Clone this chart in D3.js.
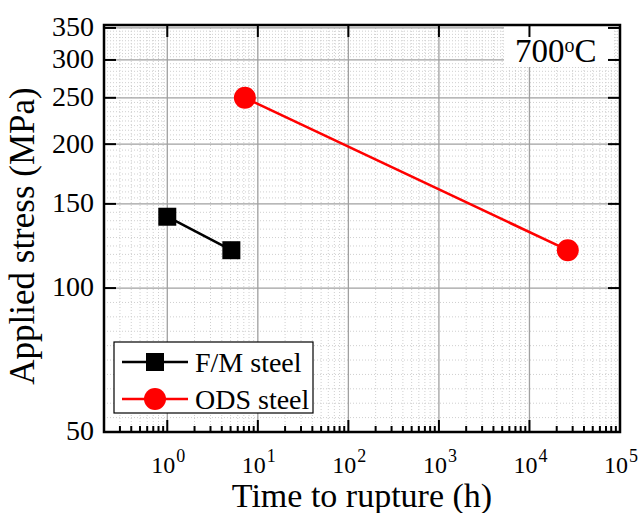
<!DOCTYPE html>
<html>
  <head>
  <script src="https://cdnjs.cloudflare.com/ajax/libs/d3/7.8.5/d3.min.js"></script>
    <meta charset="utf-8">
    <title>Stress rupture</title>
    <style>
      body { margin: 0; background: #fff; }
      text { font-family: "Liberation Serif", "Times New Roman", serif; fill: #000; }
    </style>
  </head>
  <body>
    <script>
      // data
      var fmTime = [1, 5.1];
      var fmStress = [141, 120];
      var odsTime = [7.2, 26500];
      var odsStress = [250, 120];
      var xDecades = [0, 1, 2, 3, 4, 5];
      var yTicks = [50, 100, 150, 200, 250, 300, 350];
      var seriesNames = ["F/M steel", "ODS steel"];
      var seriesColors = ["#000000", "#ff0000"];

      var W = 638, H = 513;
      var pLeft = 104, pRight = 620, pTop = 25, pBottom = 432;

      var svg = d3.select("body").append("svg")
                  .attr("width", W)
                  .attr("height", H);

      var x = d3.scaleLog().domain([0.2, 1e5]).range([pLeft, pRight]);
      var y = d3.scaleLog().domain([50, 355]).range([pBottom, pTop]);

      // minor grid values
      var xMinor = [];
      for (var d = -1; d < 5; d++) {
        for (var k = 2; k <= 9; k++) {
          var v = k * Math.pow(10, d);
          if (v > 0.2 && v < 1e5) xMinor.push(v);
        }
      }
      var yMinor = [];
      for (var i = 0; i < yTicks.length - 1; i++) {
        for (var j = 1; j < 10; j++) {
          yMinor.push(yTicks[i] * Math.pow(yTicks[i + 1] / yTicks[i], j / 10));
        }
      }
      for (var j = 1; j < 10; j++) {
        var v = 350 * Math.pow(400 / 350, j / 10);
        if (v < 355) yMinor.push(v);
      }

      var grid = svg.append("g");
      grid.selectAll(".xm").data(xMinor).enter().append("line")
          .attr("x1", function (d) { return x(d); }).attr("x2", function (d) { return x(d); })
          .attr("y1", pTop).attr("y2", pBottom)
          .style("stroke", "#cfcfcf").style("stroke-width", 1).style("stroke-dasharray", "1,2");
      grid.selectAll(".ym").data(yMinor).enter().append("line")
          .attr("x1", pLeft).attr("x2", pRight)
          .attr("y1", function (d) { return y(d); }).attr("y2", function (d) { return y(d); })
          .style("stroke", "#cfcfcf").style("stroke-width", 1).style("stroke-dasharray", "1,2");
      grid.selectAll(".xM").data(xDecades.slice(0, 5)).enter().append("line")
          .attr("x1", function (d) { return x(Math.pow(10, d)); }).attr("x2", function (d) { return x(Math.pow(10, d)); })
          .attr("y1", pTop).attr("y2", pBottom)
          .style("stroke", "#a0a0a0").style("stroke-width", 1.3);
      grid.selectAll(".yM").data(yTicks.slice(1)).enter().append("line")
          .attr("x1", pLeft).attr("x2", pRight)
          .attr("y1", function (d) { return y(d); }).attr("y2", function (d) { return y(d); })
          .style("stroke", "#a0a0a0").style("stroke-width", 1.3);

      // 700oC label with white box
      svg.append("rect").attr("x", 504).attr("y", pTop + 1).attr("width", 110).attr("height", 41)
         .style("fill", "#fff");
      var lab = svg.append("text").attr("x", 515).attr("y", 62).style("font-size", "33px");
      lab.append("tspan").text("700");
      lab.append("tspan").attr("dy", -10).style("font-size", "20px").text("o");
      lab.append("tspan").attr("dy", 10).text("C");

      // axes: ticks inward
      var ax = svg.append("g");
      ax.selectAll(".bx").data(xDecades).enter().append("line")
        .attr("x1", function (d) { return x(Math.pow(10, d)); }).attr("x2", function (d) { return x(Math.pow(10, d)); })
        .attr("y1", pBottom).attr("y2", pBottom - 12)
        .style("stroke", "#000").style("stroke-width", 2);
      ax.selectAll(".bxm").data(xMinor).enter().append("line")
        .attr("x1", function (d) { return x(d); }).attr("x2", function (d) { return x(d); })
        .attr("y1", pBottom).attr("y2", pBottom - 6)
        .style("stroke", "#000").style("stroke-width", 2);
      ax.selectAll(".tx").data(xDecades).enter().append("line")
        .attr("x1", function (d) { return x(Math.pow(10, d)); }).attr("x2", function (d) { return x(Math.pow(10, d)); })
        .attr("y1", pTop).attr("y2", pTop + 12)
        .style("stroke", "#000").style("stroke-width", 2);
      ax.selectAll(".ly").data(yTicks).enter().append("line")
        .attr("x1", pLeft).attr("x2", pLeft + 12)
        .attr("y1", function (d) { return y(d); }).attr("y2", function (d) { return y(d); })
        .style("stroke", "#000").style("stroke-width", 2);
      ax.selectAll(".ry").data(yTicks).enter().append("line")
        .attr("x1", pRight).attr("x2", pRight - 12)
        .attr("y1", function (d) { return y(d); }).attr("y2", function (d) { return y(d); })
        .style("stroke", "#000").style("stroke-width", 2);
      svg.append("rect").attr("x", pLeft).attr("y", pTop).attr("width", pRight - pLeft).attr("height", pBottom - pTop)
         .style("fill", "none").style("stroke", "#000").style("stroke-width", 2.5);

      // tick labels
      svg.selectAll(".yl").data(yTicks).enter().append("text")
         .attr("x", pLeft - 10).attr("y", function (d) { return y(d); })
         .attr("dy", "0.3em").attr("text-anchor", "end")
         .style("font-size", "28px").text(function (d) { return d; });
      var xl = svg.selectAll(".xl").data(xDecades).enter().append("text")
         .attr("x", function (d) { return x(Math.pow(10, d)) - 16; }).attr("y", 473)
         .style("font-size", "24px");
      xl.append("tspan").text("10");
      xl.append("tspan").attr("dx", 1).attr("dy", -11).style("font-size", "18px").text(function (d) { return d; });

      // axis titles
      svg.append("text").attr("x", (pLeft + pRight) / 2).attr("y", 507).attr("text-anchor", "middle")
         .style("font-size", "34px").text("Time to rupture (h)");
      svg.append("text").attr("transform", "translate(34,236) rotate(-90)").attr("text-anchor", "middle")
         .style("font-size", "35px").text("Applied stress (MPa)");

      // series
      var line = d3.line().x(function (d) { return x(d[0]); }).y(function (d) { return y(d[1]); });
      var fm = d3.zip(fmTime, fmStress);
      var ods = d3.zip(odsTime, odsStress);
      svg.append("path").datum(fm).attr("d", line)
         .style("fill", "none").style("stroke", seriesColors[0]).style("stroke-width", 2.5);
      svg.append("path").datum(ods).attr("d", line)
         .style("fill", "none").style("stroke", seriesColors[1]).style("stroke-width", 2.5);
      svg.selectAll(".sq").data(fm).enter().append("rect")
         .attr("x", function (d) { return x(d[0]) - 9; }).attr("y", function (d) { return y(d[1]) - 9; })
         .attr("width", 18).attr("height", 18).style("fill", seriesColors[0]);
      svg.selectAll(".ci").data(ods).enter().append("circle")
         .attr("cx", function (d) { return x(d[0]); }).attr("cy", function (d) { return y(d[1]); })
         .attr("r", 11).style("fill", seriesColors[1]);

      // legend
      var lg = svg.append("g");
      lg.append("rect").attr("x", 114).attr("y", 342).attr("width", 199).attr("height", 71)
        .style("fill", "#fff").style("stroke", "#000").style("stroke-width", 1.2);
      seriesNames.forEach(function (name, i) {
        var cy = 362 + i * 37;
        lg.append("line").attr("x1", 122).attr("x2", 188).attr("y1", cy).attr("y2", cy)
          .style("stroke", seriesColors[i]).style("stroke-width", 2.5);
        if (i === 0) {
          lg.append("rect").attr("x", 146).attr("y", cy - 9).attr("width", 18).attr("height", 18)
            .style("fill", seriesColors[i]);
        } else {
          lg.append("circle").attr("cx", 155).attr("cy", cy).attr("r", 11).style("fill", seriesColors[i]);
        }
        lg.append("text").attr("x", 195).attr("y", cy).attr("dy", "0.35em")
          .style("font-size", "28px").text(name);
      });
    </script>
  </body>
</html>
